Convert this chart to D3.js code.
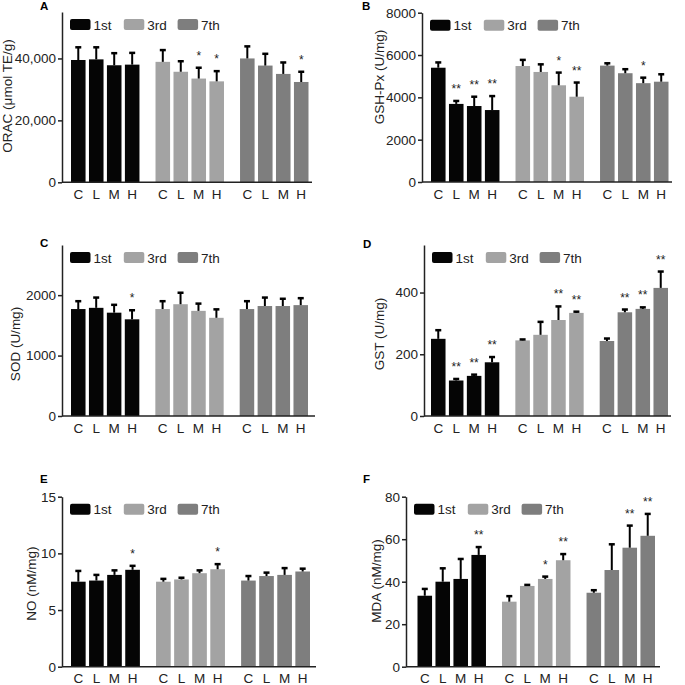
<!DOCTYPE html>
<html>
<head>
<meta charset="utf-8">
<script src="https://cdn.jsdelivr.net/npm/d3@7"></script>
<style>
  body { margin: 0; background: #fff; }
  svg { font-family: "Liberation Sans", Arial, sans-serif; }
</style>
</head>
<body>
<script>
// groups (days) and doses
var groups = ["1st", "3rd", "7th"];
var doses = ["C", "L", "M", "H"];
var groupColors = ["#050505", "#a3a3a3", "#7e7e7e"];

// A: ORAC
var oracMean = [[39500, 39700, 37800, 38000], [38900, 35700, 33500, 32600], [40000, 37700, 35000, 32400]];
var oracSd = [[4100, 3900, 3900, 3800], [3800, 3400, 3500, 3300], [3900, 3800, 3700, 3300]];
var oracSig = [["", "", "", ""], ["", "", "*", "*"], ["", "", "", "*"]];
var oracTicks = [0, 20000, 40000];

// B: GSH-Px
var gshMean = [[5400, 3690, 3590, 3400], [5480, 5200, 4570, 4030], [5500, 5140, 4670, 4740]];
var gshSd = [[250, 140, 440, 660], [290, 360, 600, 670], [110, 190, 260, 350]];
var gshSig = [["", "**", "**", "**"], ["", "", "*", "**"], ["", "", "*", ""]];
var gshTicks = [0, 2000, 4000, 6000, 8000];

// C: SOD
var sodMean = [[1770, 1790, 1710, 1600], [1770, 1850, 1740, 1625], [1770, 1820, 1820, 1835]];
var sodSd = [[130, 170, 130, 150], [130, 190, 120, 140], [130, 140, 120, 115]];
var sodSig = [["", "", "", "*"], ["", "", "", ""], ["", "", "", ""]];
var sodTicks = [0, 1000, 2000];

// D: GST
var gstMean = [[250, 115, 130, 174], [245, 263, 311, 334], [243, 336, 347, 415]];
var gstSd = [[28, 5, 4, 17], [3, 42, 44, 4], [8, 9, 5, 53]];
var gstSig = [["", "**", "**", "**"], ["", "", "**", "**"], ["", "**", "**", "**"]];
var gstTicks = [0, 200, 400];

// E: NO
var noMean = [[7.5, 7.6, 8.1, 8.55], [7.5, 7.7, 8.25, 8.6], [7.6, 8.0, 8.1, 8.4]];
var noSd = [[0.95, 0.5, 0.4, 0.35], [0.25, 0.15, 0.25, 0.45], [0.4, 0.3, 0.6, 0.25]];
var noSig = [["", "", "", "*"], ["", "", "", "*"], ["", "", "", ""]];
var noTicks = [0, 5, 10, 15];

// F: MDA
var mdaMean = [[33.4, 40, 41.3, 52.6], [30.6, 38.0, 41.3, 50.1], [34.8, 45.5, 56, 61.6]];
var mdaSd = [[3.2, 6.3, 9.4, 3.7], [2.6, 0.5, 1.1, 2.9], [1.2, 12.1, 10.4, 10.3]];
var mdaSig = [["", "", "", "**"], ["", "", "*", "**"], ["", "", "**", "**"]];
var mdaTicks = [0, 20, 40, 60, 80];

var svg = d3.select("body").append("svg")
    .attr("width", 685)
    .attr("height", 685);

// panel layout
var panels = [
  {letter: "A", lx: 40, ly: 10, label: "ORAC (\u03bcmol TE/g)", labX: 7, labY: 96,
   mean: oracMean, sd: oracSd, sig: oracSig, ticks: oracTicks, max: 55000, fmt: d3.format(","),
   axisX: 62, x0: 71, x1: 308.5, xEnd: 312, top: 12, base: 182.3},
  {letter: "B", lx: 362, ly: 10, label: "GSH-Px (U/mg)", labX: 379.5, labY: 77,
   mean: gshMean, sd: gshSd, sig: gshSig, ticks: gshTicks, max: 8000, fmt: d3.format("d"),
   axisX: 422, x0: 431, x1: 668.5, xEnd: 672, top: 12.7, base: 182},
  {letter: "C", lx: 40, ly: 247, label: "SOD (U/mg)", labX: 15, labY: 344,
   mean: sodMean, sd: sodSd, sig: sodSig, ticks: sodTicks, max: 2830, fmt: d3.format("d"),
   axisX: 62, x0: 71, x1: 308, xEnd: 315, top: 245, base: 416},
  {letter: "D", lx: 363, ly: 248, label: "GST (U/mg)", labX: 379, labY: 334,
   mean: gstMean, sd: gstSd, sig: gstSig, ticks: gstTicks, max: 554, fmt: d3.format("d"),
   axisX: 424, x0: 431, x1: 668, xEnd: 671, top: 245, base: 416},
  {letter: "E", lx: 40, ly: 483, label: "NO (nM/mg)", labX: 31.7, labY: 583.7,
   mean: noMean, sd: noSd, sig: noSig, ticks: noTicks, max: 15, fmt: d3.format("d"),
   axisX: 62, x0: 71, x1: 310, xEnd: 316, top: 496.7, base: 666.7},
  {letter: "F", lx: 363, ly: 483, label: "MDA (nM/mg)", labX: 376.5, labY: 581,
   mean: mdaMean, sd: mdaSd, sig: mdaSig, ticks: mdaTicks, max: 80, fmt: d3.format("d"),
   axisX: 406, x0: 417.5, x1: 655, xEnd: 660, top: 496.7, base: 666.7}
];

panels.forEach(drawPanel);

function drawPanel(p) {
    var g = svg.append("g");

    var y = d3.scaleLinear().domain([0, p.max]).range([p.base, p.top]);
    var xg = d3.scaleBand().domain(groups).range([p.x0, p.x1]).paddingInner(0.19);
    var xb = d3.scaleBand().domain(doses).range([0, xg.bandwidth()]).paddingInner(0.19);

    groups.forEach(function(grp, gi) {
        var rows = doses.map(function(d, di) {
            return {dose: d, m: p.mean[gi][di], sd: p.sd[gi][di], sig: p.sig[gi][di]};
        });
        var gg = g.append("g").attr("transform", "translate(" + xg(grp) + ",0)");

        // bars
        gg.selectAll(".bar").data(rows).enter().append("rect")
          .attr("class", "bar")
          .attr("x", function(d) { return xb(d.dose); })
          .attr("width", xb.bandwidth())
          .attr("y", function(d) { return y(d.m); })
          .attr("height", function(d) { return p.base - y(d.m); })
          .attr("fill", groupColors[gi]);

        // error bars
        gg.selectAll(".err").data(rows).enter().append("line")
          .attr("x1", function(d) { return xb(d.dose) + xb.bandwidth() / 2; })
          .attr("x2", function(d) { return xb(d.dose) + xb.bandwidth() / 2; })
          .attr("y1", function(d) { return y(d.m); })
          .attr("y2", function(d) { return y(d.m + d.sd); })
          .attr("stroke", "#000")
          .attr("stroke-width", 2);
        gg.selectAll(".cap").data(rows).enter().append("line")
          .attr("x1", function(d) { return xb(d.dose) + xb.bandwidth() / 2 - 3; })
          .attr("x2", function(d) { return xb(d.dose) + xb.bandwidth() / 2 + 3; })
          .attr("y1", function(d) { return y(d.m + d.sd); })
          .attr("y2", function(d) { return y(d.m + d.sd); })
          .attr("stroke", "#000")
          .attr("stroke-width", 2.5);

        // significance marks
        gg.selectAll(".sig").data(rows.filter(function(d) { return d.sig; })).enter().append("text")
          .attr("x", function(d) { return xb(d.dose) + xb.bandwidth() / 2; })
          .attr("y", function(d) { return y(d.m + d.sd) - 8; })
          .attr("text-anchor", "middle")
          .attr("font-size", 12)
          .attr("fill", "#222")
          .text(function(d) { return d.sig; });

        // x labels
        var xa = gg.append("g")
          .attr("transform", "translate(0," + p.base + ")")
          .call(d3.axisBottom(xb).tickSize(0).tickPadding(7));
        xa.select(".domain").remove();
        xa.selectAll("text").attr("font-size", 13.5).attr("fill", "#222")
          .style("font-family", "Liberation Sans, Arial, sans-serif");
    });

    // x axis line
    g.append("line")
      .attr("x1", p.axisX).attr("x2", p.xEnd)
      .attr("y1", p.base).attr("y2", p.base)
      .attr("stroke", "#222").attr("stroke-width", 1.5);

    // y axis
    var ya = g.append("g")
      .attr("transform", "translate(" + p.axisX + ",0)")
      .call(d3.axisLeft(y).tickValues(p.ticks).tickFormat(p.fmt)
            .tickSize(4).tickSizeOuter(0).tickPadding(2));
    ya.select(".domain").attr("stroke", "#222").attr("stroke-width", 1.5);
    ya.selectAll(".tick line").attr("stroke", "#222").attr("stroke-width", 1.5);
    ya.selectAll("text").attr("font-size", 13.5).attr("fill", "#222")
      .style("font-family", "Liberation Sans, Arial, sans-serif");

    // y label
    g.append("text")
      .attr("transform", "translate(" + p.labX + "," + p.labY + ") rotate(-90)")
      .attr("dy", "0.35em")
      .attr("text-anchor", "middle")
      .attr("font-size", 13.5)
      .attr("fill", "#222")
      .text(p.label);

    // panel letter
    g.append("text")
      .attr("x", p.lx).attr("y", p.ly)
      .attr("font-size", 11.5)
      .attr("font-weight", "bold")
      .text(p.letter);

    // legend
    var lg = g.selectAll(".legend").data(groups).enter().append("g")
      .attr("transform", function(d, i) {
          return "translate(" + (p.axisX + 8 + i * 53.8) + "," + (p.top + 7) + ")";
      });
    lg.append("rect")
      .attr("width", 20.5).attr("height", 11).attr("rx", 2)
      .attr("fill", function(d, i) { return groupColors[i]; });
    lg.append("text")
      .attr("x", 23.5).attr("y", 10.5)
      .attr("font-size", 13.5)
      .attr("fill", "#222")
      .text(function(d) { return d; });
}
</script>
</body>
</html>
